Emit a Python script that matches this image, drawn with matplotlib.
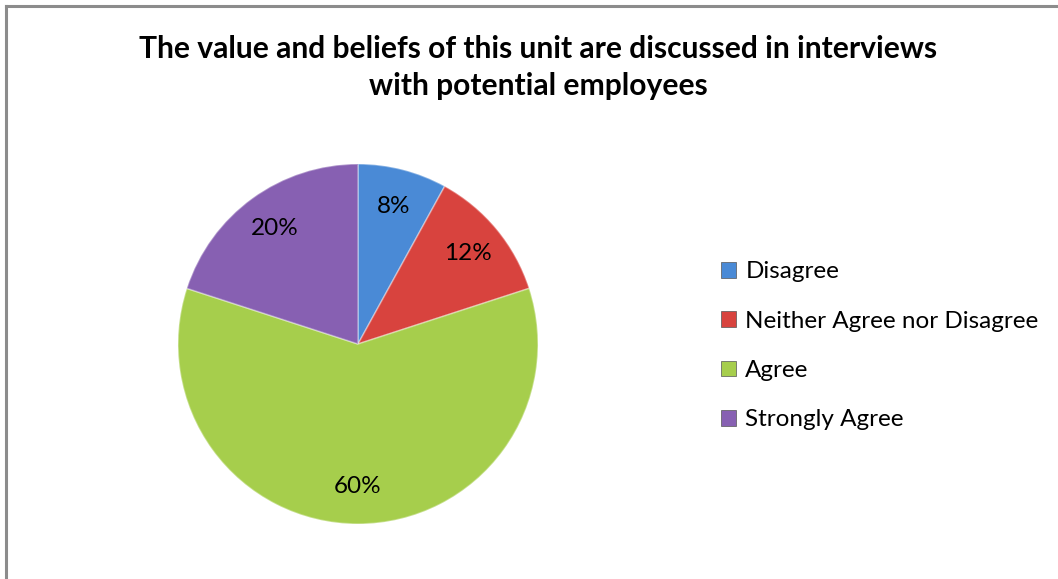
import matplotlib
matplotlib.use("Agg")
import matplotlib.pyplot as plt
from matplotlib.lines import Line2D

categories = ["Disagree", "Neither Agree nor Disagree", "Agree", "Strongly Agree"]
values = [8, 12, 60, 20]
colors = ["#4A8AD6", "#D8433E", "#A6CE4C", "#8760B2"]
title = "The value and beliefs of this unit are discussed in interviews\nwith potential employees"

W, H = 1058, 579
fig = plt.figure(figsize=(W / 100, H / 100), dpi=100)
fig.patch.set_facecolor("white")

# border (top and left visible)
fig.add_artist(Line2D([5.5 / W, 5.5 / W], [0, 1 - 5.5 / H], transform=fig.transFigure,
                      color="#8C8C8C", lw=2.2))
fig.add_artist(Line2D([5.5 / W, 1057 / W], [1 - 5.5 / H, 1 - 5.5 / H], transform=fig.transFigure,
                      color="#8C8C8C", lw=2.2))

fig.text(538 / W, 1 - 67.5 / H, title, ha="center", va="center", fontsize=21.6,
         fontweight="bold", family="Lato", linespacing=1.43)

cx, cy, r = 358, 344, 180
ax = fig.add_axes([(cx - r) / W, 1 - (cy + r) / H, 2 * r / W, 2 * r / H])
wedges, texts, autotexts = ax.pie(
    values, colors=colors, startangle=90, counterclock=False,
    autopct="%1.0f%%", pctdistance=0.79, radius=1,
    wedgeprops=dict(edgecolor=(1, 1, 1, 0.35), linewidth=1.2),
    textprops=dict(fontsize=17.5, family="Lato", color="black"))
ax.set_xlim(-1, 1)
ax.set_ylim(-1, 1)
ax.set_aspect("auto")
ax.axis("off")

handles = [plt.Rectangle((0, 0), 1, 1, facecolor=c, edgecolor="#555555", lw=0.5) for c in colors]
leg = fig.legend(handles, categories, loc="upper left", bbox_to_anchor=(721 / W, 1 - 261.5 / H),
                 frameon=False, prop=dict(family="Lato", size=17.5),
                 handlelength=0.62, handleheight=0.62, handletextpad=0.38,
                 labelspacing=1.165, borderaxespad=0, borderpad=0)

fig.savefig("out.png", dpi=100, facecolor="white")
